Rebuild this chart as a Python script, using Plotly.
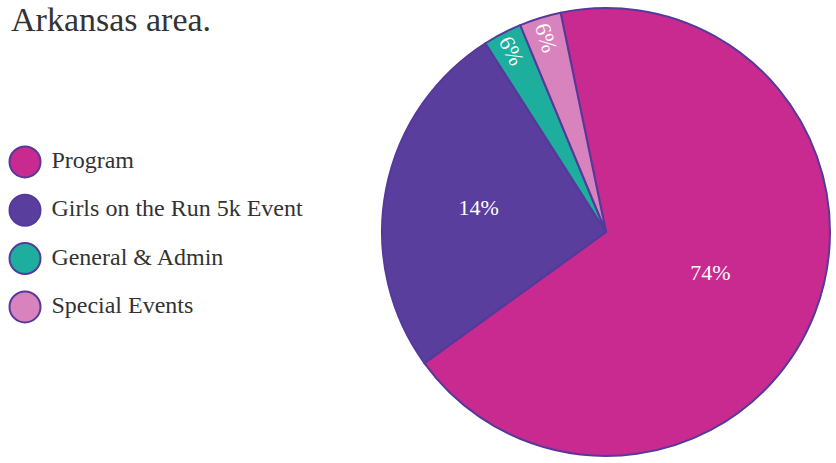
import plotly.graph_objects as go

categories = ["Program", "Girls on the Run 5k Event", "General & Admin", "Special Events"]
# wedge sizes (percent of the circle)
wedge_values = [68.3, 25.9, 2.8, 3.0]
# printed slice labels
slice_labels = ["74%", "14%", "6%", "6%"]
colors = ["#C92A8F", "#5A3E9E", "#1EAE9D", "#D983BE"]
outline = "#55399B"
title_text = "Arkansas area."

SERIF = "Liberation Serif"

fig = go.Figure()

fig.add_trace(go.Pie(
    labels=categories,
    values=wedge_values,
    text=slice_labels,
    textinfo="text",
    sort=False,
    direction="clockwise",
    rotation=-11.7,
    marker=dict(colors=colors, line=dict(color=outline, width=2)),
    textfont=dict(family=SERIF, size=22, color="white"),
    insidetextorientation="auto",
    domain=dict(x=[382/836, 830/836], y=[1-456/463, 1-8/463]),
    showlegend=False,
    hoverinfo="label+text",
))

# legend drawn as markers on a categorical axis
fig.add_trace(go.Scatter(
    x=[0]*len(categories),
    y=categories,
    mode="markers+text",
    text=["\u00a0" + c for c in categories],
    textposition="middle right",
    textfont=dict(family=SERIF, size=24, color="#333333"),
    marker=dict(size=31, color=colors, line=dict(color=outline, width=2)),
    showlegend=False,
    hoverinfo="skip",
    cliponaxis=False,
))

fig.update_layout(
    width=836, height=463,
    margin=dict(l=0, r=0, t=0, b=0),
    paper_bgcolor="white", plot_bgcolor="white",
    xaxis=dict(domain=[0, 0.45], range=[-25, 351], visible=False, fixedrange=True),
    yaxis=dict(domain=[0, 1], type="category", categoryorder="array",
               categoryarray=categories, range=[6.23, -3.35], visible=False),
    annotations=[dict(
        text=title_text, xref="paper", yref="paper", x=0.012, y=1,
        xanchor="left", yanchor="top", showarrow=False, borderpad=0,
        font=dict(family=SERIF, size=34, color="#333333"),
    )],
)

fig.write_html("out.html")
